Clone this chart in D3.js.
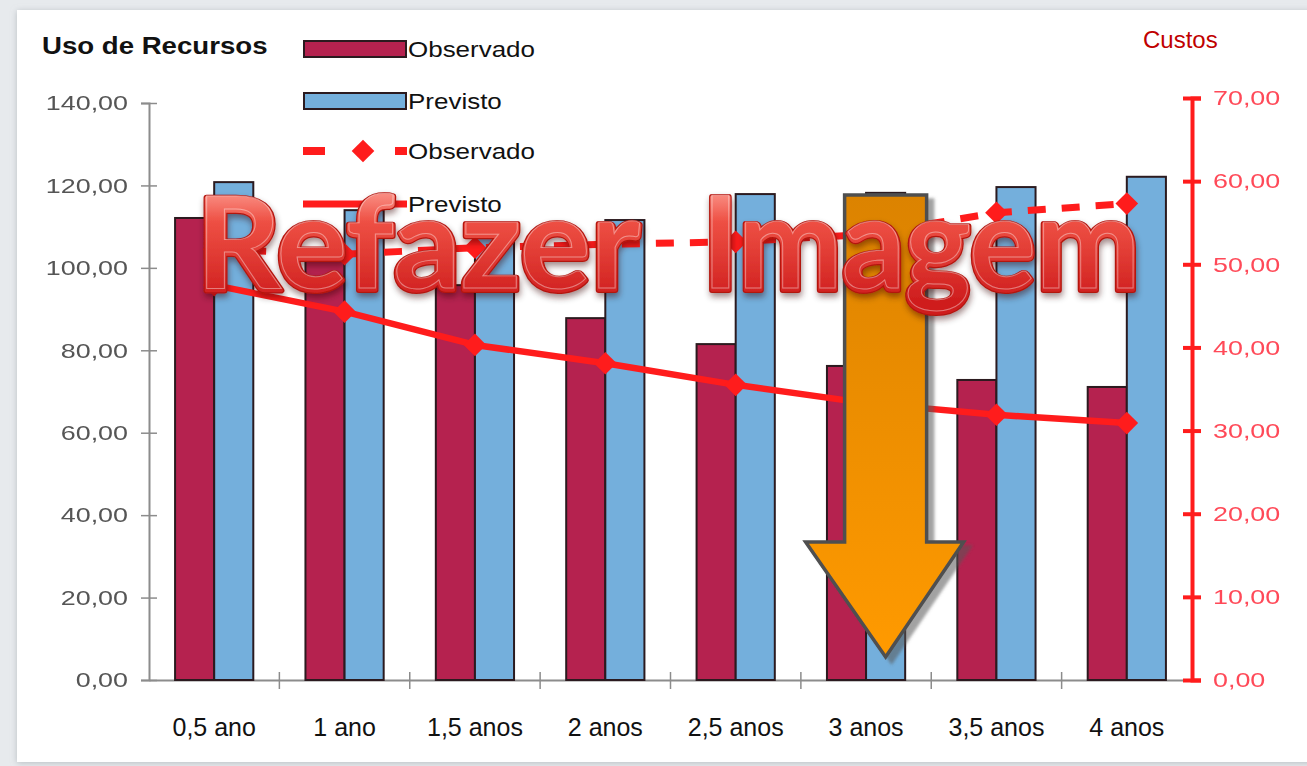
<!DOCTYPE html>
<html>
<head>
<meta charset="utf-8">
<title>Uso de Recursos x Custos</title>
<script src="https://d3js.org/d3.v7.min.js"></script>
<style>
    body { margin: 0; background: #e7eaed; }
    svg { display: block; }
</style>
</head>
<body>
<div id="chart"></div>
<script>

    // ---- dados ----
    var categories = ["0,5 ano", "1 ano", "1,5 anos", "2 anos", "2,5 anos", "3 anos", "3,5 anos", "4 anos"];
    var usoObservado = [112.1, 104.0, 95.8, 87.8, 81.5, 76.2, 72.8, 71.1];
    var usoPrevisto = [120.8, 114.0, 110.0, 111.6, 117.9, 118.2, 119.6, 122.1];
    var custoObservado = [51.8, 51.2, 52.0, 52.4, 52.7, 53.6, 56.2, 57.3];
    var custoPrevisto = [47.5, 44.3, 40.3, 38.1, 35.5, 33.3, 31.9, 30.9];
    var leftTicks = [0, 20, 40, 60, 80, 100, 120, 140];
    var rightTicks = [0, 10, 20, 30, 40, 50, 60, 70];
    var seriesNames = ["Observado", "Previsto"];

    var crimson = "#b5224f", blue = "#74afdc", red = "#ff1c1c";

    var W = 1307, H = 766;
    var svg = d3.select("#chart").append("svg")
        .attr("width", W)
        .attr("height", H);

    var defs = svg.append("defs");

    var panelShadow = defs.append("filter").attr("id", "panelShadow")
        .attr("x", "-5%").attr("y", "-5%").attr("width", "110%").attr("height", "110%");
    panelShadow.append("feDropShadow").attr("dx", 0).attr("dy", 1).attr("stdDeviation", 3)
        .attr("flood-color", "#9aa0a6").attr("flood-opacity", 0.6);

    var soft = defs.append("filter").attr("id", "soft");
    soft.append("feGaussianBlur").attr("stdDeviation", 0.45);

    var arrowShadow = defs.append("filter").attr("id", "arrowShadow")
        .attr("x", "-20%").attr("y", "-10%").attr("width", "140%").attr("height", "120%");
    arrowShadow.append("feDropShadow").attr("dx", 6).attr("dy", 5).attr("stdDeviation", 1.5)
        .attr("flood-color", "#555").attr("flood-opacity", 0.55);

    var textShadow = defs.append("filter").attr("id", "textShadow")
        .attr("x", "-5%").attr("y", "-20%").attr("width", "110%").attr("height", "150%");
    textShadow.append("feDropShadow").attr("dx", 1).attr("dy", 4).attr("stdDeviation", 3)
        .attr("flood-color", "#300").attr("flood-opacity", 0.45);

    var arrowGrad = defs.append("linearGradient").attr("id", "arrowGrad")
        .attr("x1", 0).attr("y1", 0).attr("x2", 0).attr("y2", 1);
    arrowGrad.append("stop").attr("offset", "0%").attr("stop-color", "#dc8300");
    arrowGrad.append("stop").attr("offset", "100%").attr("stop-color", "#ff9a00");

    var textGrad = defs.append("linearGradient").attr("id", "textGrad")
        .attr("gradientUnits", "userSpaceOnUse")
        .attr("x1", 0).attr("y1", 195).attr("x2", 0).attr("y2", 300);
    textGrad.append("stop").attr("offset", "0%").attr("stop-color", "#f98a7f");
    textGrad.append("stop").attr("offset", "25%").attr("stop-color", "#ee5044");
    textGrad.append("stop").attr("offset", "100%").attr("stop-color", "#cf1e1e");

    // fundo cinza e painel branco
    svg.append("rect").attr("width", W).attr("height", H).attr("fill", "#e7eaed");
    svg.append("rect")
        .attr("x", 17).attr("y", 10)
        .attr("width", W).attr("height", 752)
        .attr("fill", "#fff")
        .attr("filter", "url(#panelShadow)");

    // alarga um texto na horizontal (o grafico original esta esticado)
    function widen(sel, k) {
        sel.each(function() {
            var w = this.getComputedTextLength();
            this.setAttribute("textLength", w * k);
            this.setAttribute("lengthAdjust", "spacingAndGlyphs");
        });
    }

    var fmt = d3.formatLocale({decimal: ",", thousands: ".", grouping: [3], currency: ["R$", ""]}).format(".2f");

    // ---- escalas ----
    var x0 = d3.scaleBand()
        .domain(categories)
        .range([149, 1192])
        .paddingInner(0.4)
        .paddingOuter(0.2);

    var x1 = d3.scaleBand()
        .domain(seriesNames)
        .range([0, x0.bandwidth()]);

    var yL = d3.scaleLinear().domain([0, 140]).range([680, 103]);
    var yR = d3.scaleLinear().domain([0, 70]).range([680, 98]);

    // ---- eixo esquerdo ----
    var axL = svg.append("g")
        .attr("transform", "translate(149,0)")
        .call(d3.axisLeft(yL).tickValues(leftTicks).tickFormat(fmt).tickSizeOuter(0).tickSize(8).tickPadding(13));
    axL.select(".domain").attr("stroke", "#8c8c8c").attr("stroke-width", 2);
    axL.selectAll(".tick line").attr("x1", 8).attr("stroke", "#8c8c8c").attr("stroke-width", 1.5);
    axL.selectAll(".tick text")
        .attr("fill", "#555")
        .attr("filter", "url(#soft)")
        .style("font-family", "Liberation Sans, Arial")
        .style("font-size", "21px")
        .call(widen, 1.28);

    // ---- eixo x ----
    var axB = svg.append("g")
        .attr("transform", "translate(0,680)")
        .call(d3.axisBottom(x0).tickSize(0).tickPadding(38).tickSizeOuter(0));
    axB.select(".domain").attr("stroke", "#8c8c8c").attr("stroke-width", 2);
    axB.selectAll(".tick text")
        .attr("fill", "#111")
        .style("font-family", "Liberation Sans, Arial")
        .style("font-size", "25px");

    var boundaries = categories.slice(1).map(function(c) {
        return x0(c) - x0.step() * x0.paddingInner() / 2;
    });
    axB.selectAll(".sep")
        .data(boundaries)
        .enter().append("line")
        .attr("class", "sep")
        .attr("x1", function(d) { return d; })
        .attr("x2", function(d) { return d; })
        .attr("y1", -8).attr("y2", 9)
        .attr("stroke", "#8c8c8c").attr("stroke-width", 1.5);

    // ---- barras ----
    var groups = svg.append("g").selectAll("g")
        .data(categories)
        .enter().append("g")
        .attr("transform", function(d) { return "translate(" + x0(d) + ",0)"; });

    groups.selectAll("rect")
        .data(function(d, i) { return [{s: "Observado", v: usoObservado[i]}, {s: "Previsto", v: usoPrevisto[i]}]; })
        .enter().append("rect")
        .attr("x", function(d) { return x1(d.s); })
        .attr("y", function(d) { return yL(d.v); })
        .attr("width", x1.bandwidth())
        .attr("height", function(d) { return yL(0) - yL(d.v); })
        .attr("fill", function(d) { return d.s === "Observado" ? crimson : blue; })
        .attr("stroke", "#2b1a1f")
        .attr("stroke-width", 2);

    // ---- eixo direito (custos) ----
    var axR = svg.append("g")
        .attr("transform", "translate(1192,0)")
        .call(d3.axisRight(yR).tickValues(rightTicks).tickFormat(fmt).tickSizeOuter(0).tickSize(9).tickPadding(12));
    axR.select(".domain").attr("stroke", red).attr("stroke-width", 4);
    axR.selectAll(".tick line").attr("x1", -9).attr("stroke", red).attr("stroke-width", 4);
    axR.selectAll(".tick text")
        .attr("fill", "#ff4a58")
        .attr("filter", "url(#soft)")
        .style("font-family", "Liberation Sans, Arial")
        .style("font-size", "21px")
        .call(widen, 1.28);

    // ---- linhas de custo ----
    var cx = function(d, i) { return x0(categories[i]) + x0.bandwidth() / 2; };
    var costLine = d3.line()
        .x(cx)
        .y(function(d) { return yR(d); });

    svg.append("path")
        .datum(custoObservado)
        .attr("fill", "none")
        .attr("stroke", red)
        .attr("stroke-width", 7)
        .attr("stroke-dasharray", "18,16")
        .attr("d", costLine);

    svg.append("path")
        .datum(custoPrevisto)
        .attr("fill", "none")
        .attr("stroke", red)
        .attr("stroke-width", 6.5)
        .attr("stroke-linejoin", "round")
        .attr("d", costLine);

    [custoObservado, custoPrevisto].forEach(function(serie) {
        svg.append("g").selectAll("rect")
            .data(serie)
            .enter().append("rect")
            .attr("x", -8).attr("y", -8)
            .attr("width", 16).attr("height", 16)
            .attr("fill", red)
            .attr("transform", function(d, i) { return "translate(" + cx(d, i) + "," + yR(d) + ") rotate(45)"; });
    });

    // ---- legenda ----
    var legend = svg.append("g").attr("transform", "translate(303,0)");
    var rows = [
        {label: "Observado", kind: "bar", color: crimson, y: 49},
        {label: "Previsto", kind: "bar", color: blue, y: 101},
        {label: "Observado", kind: "dash", color: red, y: 151},
        {label: "Previsto", kind: "line", color: red, y: 204}
    ];
    rows.forEach(function(r) {
        if (r.kind === "bar") {
            legend.append("rect")
                .attr("x", 1).attr("y", r.y - 8)
                .attr("width", 102).attr("height", 16)
                .attr("fill", r.color)
                .attr("stroke", "#2b1a1f").attr("stroke-width", 2);
        } else if (r.kind === "dash") {
            legend.append("line")
                .attr("x1", 0).attr("x2", 104)
                .attr("y1", r.y).attr("y2", r.y)
                .attr("stroke", r.color).attr("stroke-width", 8)
                .attr("stroke-dasharray", "22,70");
            legend.append("line")
                .attr("x1", 93).attr("x2", 104)
                .attr("y1", r.y).attr("y2", r.y)
                .attr("stroke", r.color).attr("stroke-width", 8);
            legend.append("rect")
                .attr("x", -8).attr("y", -8).attr("width", 16).attr("height", 16)
                .attr("fill", r.color)
                .attr("transform", "translate(60," + r.y + ") rotate(45)");
        } else {
            legend.append("line")
                .attr("x1", 0).attr("x2", 104)
                .attr("y1", r.y).attr("y2", r.y)
                .attr("stroke", r.color).attr("stroke-width", 7);
        }
        legend.append("text")
            .attr("x", 105).attr("y", r.y + 8)
            .style("font-family", "Liberation Sans, Arial")
            .style("font-size", "22px")
            .attr("fill", "#111")
            .text(r.label)
            .call(widen, 1.18);
    });

    // ---- titulos ----
    svg.append("text")
        .attr("x", 42).attr("y", 54)
        .style("font-family", "Liberation Sans, Arial")
        .style("font-weight", "bold")
        .style("font-size", "23px")
        .attr("fill", "#111")
        .text("Uso de Recursos")
        .call(widen, 1.2);

    svg.append("text")
        .attr("x", 1143).attr("y", 48)
        .style("font-family", "Liberation Sans, Arial")
        .style("font-size", "24px")
        .attr("fill", "#c00000")
        .text("Custos");

    // ---- seta laranja sobre "3 anos" ----
    var ax = x0("3 anos") + x1("Previsto") + x1.bandwidth() / 2;
    var tipY = yL(0) - 23, baseY = tipY - 115, topY = 195;
    var arrowPts = [
        [ax - 41, topY], [ax + 41, topY], [ax + 41, baseY], [ax + 78, baseY],
        [ax, tipY], [ax - 80, baseY], [ax - 41, baseY]
    ];
    svg.append("path")
        .attr("d", "M" + arrowPts.map(function(p) { return p.join(","); }).join("L") + "Z")
        .attr("fill", "url(#arrowGrad)")
        .attr("stroke", "#4f4f4f")
        .attr("stroke-width", 3.5)
        .attr("stroke-linejoin", "miter")
        .attr("filter", "url(#arrowShadow)");

    // ---- texto sobreposto ----
    var words = [
        {t: "Refazer", x: 196, len: 444},
        {t: "Imagem", x: 702, len: 438}
    ];
    var overlay = svg.append("g").attr("filter", "url(#textShadow)");
    words.forEach(function(w) {
        // contorno escuro e engrossamento
        overlay.append("text")
            .attr("x", w.x).attr("y", 290)
            .attr("textLength", w.len)
            .attr("lengthAdjust", "spacingAndGlyphs")
            .style("font-family", "Lato, Open Sans, sans-serif")
            .style("font-weight", "bold")
            .style("font-size", "128px")
            .attr("fill", "#b3150f")
            .attr("stroke", "#b3150f")
            .attr("stroke-width", 6)
            .attr("stroke-linejoin", "round")
            .text(w.t);
        overlay.append("text")
            .attr("x", w.x).attr("y", 290)
            .attr("textLength", w.len)
            .attr("lengthAdjust", "spacingAndGlyphs")
            .style("font-family", "Lato, Open Sans, sans-serif")
            .style("font-weight", "bold")
            .style("font-size", "128px")
            .attr("fill", "url(#textGrad)")
            .attr("stroke", "url(#textGrad)")
            .attr("stroke-width", 3.5)
            .attr("stroke-linejoin", "round")
            .text(w.t);
        overlay.append("text")
            .attr("x", w.x).attr("y", 288)
            .attr("textLength", w.len)
            .attr("lengthAdjust", "spacingAndGlyphs")
            .style("font-family", "Lato, Open Sans, sans-serif")
            .style("font-weight", "bold")
            .style("font-size", "128px")
            .attr("fill", "none")
            .attr("stroke", "rgba(255,255,255,0.4)")
            .attr("stroke-width", 1)
            .text(w.t);
    });

</script>
</body>
</html>
